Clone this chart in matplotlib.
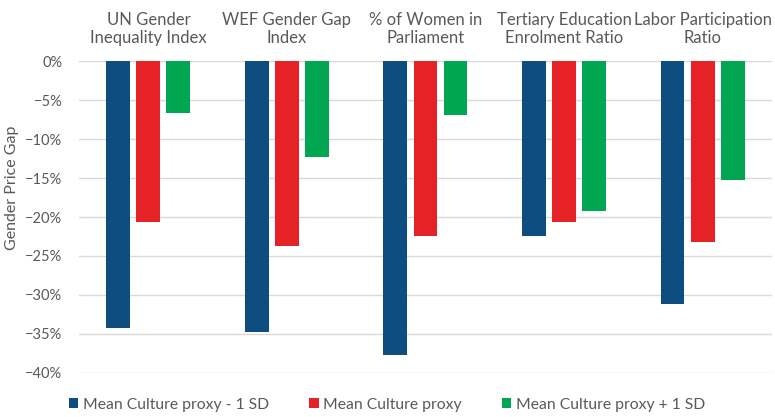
import numpy as np
import matplotlib.pyplot as plt
from matplotlib.ticker import PercentFormatter

plt.rcParams['font.family'] = ['Lato', 'DejaVu Sans']

categories = ["UN Gender\nInequality Index", "WEF Gender Gap\nIndex", "% of Women in\nParliament",
              "Tertiary Education\nEnrolment Ratio", "Labor Participation\nRatio"]
minus_sd = [-34.3, -34.8, -37.7, -22.4, -31.2]
mean_proxy = [-20.6, -23.7, -22.4, -20.7, -23.2]
plus_sd = [-6.7, -12.3, -6.9, -19.2, -15.2]
series_names = ["Mean Culture proxy - 1 SD", "Mean Culture proxy", "Mean Culture proxy + 1 SD"]
colors = ["#0E4D80", "#E52326", "#00A652"]

grey = "#595959"

fig = plt.figure(figsize=(7.75, 4.17), dpi=100)
ax = fig.add_axes([0.102, 0.106, 0.894, 0.747])

x = np.arange(len(categories))
w = 0.172
step = 0.217
for i, (vals, name, c) in enumerate(zip([minus_sd, mean_proxy, plus_sd], series_names, colors)):
    ax.bar(x + (i - 1) * step, vals, w, color=c, label=name, zorder=3)

ax.set_ylim(-40, 0)
ax.set_xlim(-0.5, len(categories) - 0.5)
ax.set_yticks(np.arange(-40, 1, 5))
ax.yaxis.set_major_formatter(PercentFormatter(decimals=0))
ax.grid(axis='y', color="#d9d9d9", linewidth=1, zorder=0)
for s in ax.spines.values():
    s.set_visible(False)

ax.xaxis.tick_top()
ax.set_xticks(x)
ax.set_xticklabels(categories, fontsize=12, color=grey, linespacing=1.15)
ax.tick_params(axis='x', length=0, pad=11)
ax.tick_params(axis='y', length=0, labelsize=10.5, labelcolor=grey, pad=12)
ax.set_ylabel("Gender Price Gap", fontsize=11.5, color=grey)
ax.yaxis.set_label_coords(-0.086, 0.593)

fig.legend(loc='lower left', bbox_to_anchor=(0.089, 0.012), ncol=3, frameon=False,
           fontsize=11.3, labelcolor=grey, handlelength=0.6, handleheight=0.6,
           handletextpad=0.3, columnspacing=2.55, borderpad=0, borderaxespad=0)

plt.savefig("out.png", dpi=100)
